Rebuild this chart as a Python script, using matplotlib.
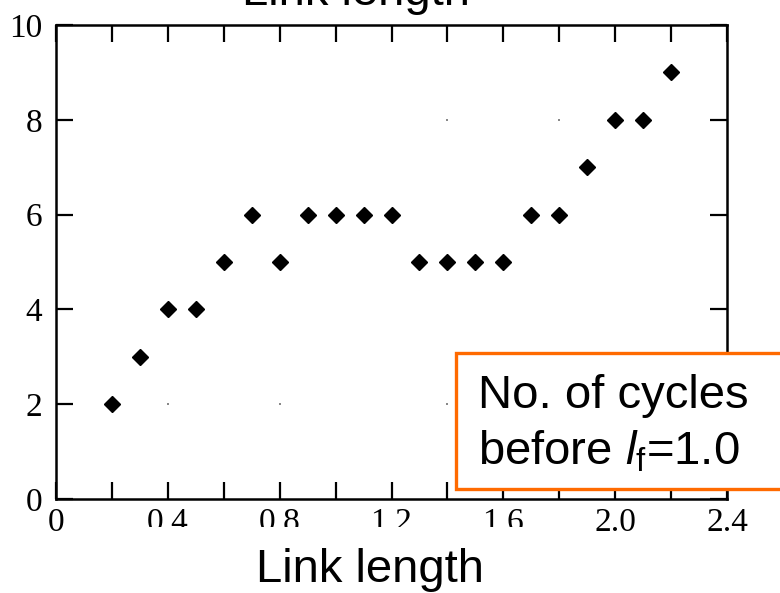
#!/usr/bin/env python3

import matplotlib
matplotlib.use("Agg")
import matplotlib.pyplot as plt
from matplotlib.patches import Rectangle
from matplotlib.ticker import FixedLocator, FuncFormatter

# link length vs. number of cycles
link_length = [0.2, 0.3, 0.4, 0.5, 0.6, 0.7, 0.8, 0.9, 1.0, 1.1, 1.2,
               1.3, 1.4, 1.5, 1.6, 1.7, 1.8, 1.9, 2.0, 2.1, 2.2]
cycles = [2, 3, 4, 4, 5, 6, 5, 6, 6, 6, 6,
          5, 5, 5, 5, 6, 6, 7, 8, 8, 9]

# faint grid specks left in the plot area
speck_x = [0.4, 0.8, 1.4, 1.4, 1.8]
speck_y = [2, 2, 2, 8, 8]

x_ticks = [0.0, 0.2, 0.4, 0.6, 0.8, 1.0, 1.2, 1.4, 1.6, 1.8, 2.0, 2.2, 2.4]
x_labels = ["0", "", "0.4", "", "0.8", "", "1.2", "", "1.6", "", "2.0", "", "2.4"]
y_ticks = [0, 2, 4, 6, 8, 10]

plt.rcParams["mathtext.fontset"] = "custom"
plt.rcParams["mathtext.rm"] = "Liberation Sans"
plt.rcParams["mathtext.it"] = "Liberation Sans:italic"

W, H = 780, 593
fig = plt.figure(figsize=(W / 100, H / 100), dpi=100)
ax = fig.add_axes([56 / W, (H - 499) / H, 671 / W, 474 / H])

ax.plot(speck_x, speck_y, "s", color="#888888", ms=2, mew=0)
ax.plot(link_length, cycles, "D", color="black", ms=8)

ax.set_xlim(0, 2.4)
ax.set_ylim(0, 10)
ax.xaxis.set_major_locator(FixedLocator(x_ticks))
ax.xaxis.set_major_formatter(FuncFormatter(lambda v, i: x_labels[i] if i is not None and i < len(x_labels) else ""))
ax.set_yticks(y_ticks)
ax.set_yticklabels([str(v) for v in y_ticks])

serif = {"family": "Liberation Serif", "size": 24}
for lab in ax.get_xticklabels() + ax.get_yticklabels():
    lab.set_fontfamily(serif["family"])
    lab.set_fontsize(serif["size"])

ax.tick_params(direction="in", length=12, width=1.6, top=True, right=True)
ax.tick_params(axis="x", pad=6)
ax.tick_params(axis="y", pad=10)
for sp in ax.spines.values():
    sp.set_linewidth(1.8)

# white strip over the lower half of the middle tick labels
fig.patches.append(Rectangle((100, 0), 470, H - 527, transform=None,
                             facecolor="white", edgecolor="none", zorder=2))

fig.text(370 / W, 11 / H, "Link length", ha="center", va="baseline",
         fontsize=34, family="Liberation Sans")
fig.text(356 / W, (H - 5) / H, "Link length", ha="center", va="baseline",
         fontsize=34, family="Liberation Sans")

# annotation box
fig.patches.append(Rectangle((456, H - 489), 360, 136, transform=None,
                             facecolor="white", edgecolor="#FF6A00",
                             linewidth=2.4, zorder=2))
fig.text(478 / W, (H - 408) / H, "No. of cycles", ha="left", va="baseline",
         fontsize=34, family="Liberation Sans")
fig.text(478 / W, (H - 465) / H, r"before $l_{\mathrm{f}}$=1.0", ha="left",
         va="baseline", fontsize=34, family="Liberation Sans")

fig.savefig("out.png", dpi=100)
